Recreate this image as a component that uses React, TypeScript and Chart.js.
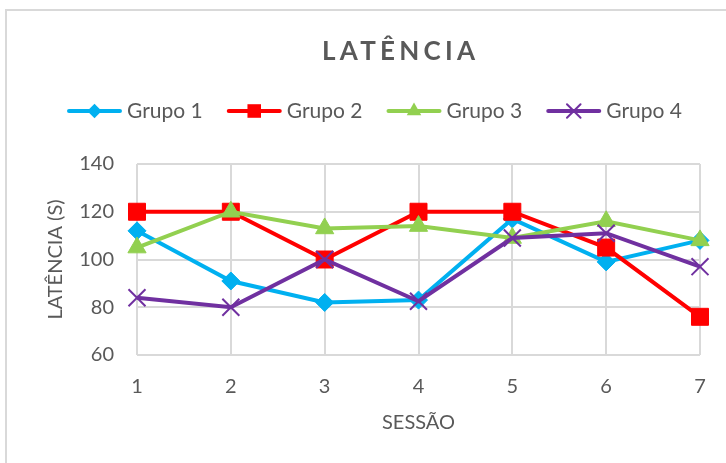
import React, { useEffect, useRef } from 'react';
import { Chart, registerables } from 'chart.js';

Chart.register(...registerables);

const sessions = ['1', '2', '3', '4', '5', '6', '7'];
const grupo1 = [112, 91, 82, 83, 117, 99, 108];
const grupo2 = [120, 120, 100, 120, 120, 105, 76];
const grupo3 = [105, 120, 113, 114, 109, 116, 108];
const grupo4 = [84, 80, 100, 82.5, 109, 111, 97];
const seriesNames = ['Grupo 1', 'Grupo 2', 'Grupo 3', 'Grupo 4'];
const seriesColors = ['#00B0F0', '#FF0000', '#92D050', '#7030A0'];
const seriesMarkers = ['rectRot', 'rect', 'triangle', 'crossRot'];
const seriesMarkerRadius = [9, 12, 10.5, 12];
const yTicks = [60, 80, 100, 120, 140];
const chartTitle = 'LATÊNCIA';
const yTitle = 'LATÊNCIA (S)';
const xTitle = 'SESSÃO';

const TEXT = '#595959';
const GRID = '#D9D9D9';
const FONT = 'Lato, "Open Sans", sans-serif';

function drawMarker(ctx: CanvasRenderingContext2D, style: string, x: number, y: number, r: number, color: string) {
  ctx.save();
  ctx.fillStyle = color;
  ctx.strokeStyle = color;
  ctx.beginPath();
  if (style === 'rectRot') {
    ctx.moveTo(x, y - r);
    ctx.lineTo(x + r, y);
    ctx.lineTo(x, y + r);
    ctx.lineTo(x - r, y);
    ctx.closePath();
    ctx.fill();
  } else if (style === 'rect') {
    const s = r * Math.SQRT1_2;
    ctx.rect(x - s, y - s, 2 * s, 2 * s);
    ctx.fill();
  } else if (style === 'triangle') {
    const h = r * Math.sin(Math.PI / 3);
    ctx.moveTo(x, y - r);
    ctx.lineTo(x + h, y + r / 2);
    ctx.lineTo(x - h, y + r / 2);
    ctx.closePath();
    ctx.fill();
  } else {
    const d = r * Math.SQRT1_2;
    ctx.lineWidth = 2;
    ctx.moveTo(x - d, y - d);
    ctx.lineTo(x + d, y + d);
    ctx.moveTo(x + d, y - d);
    ctx.lineTo(x - d, y + d);
    ctx.stroke();
  }
  ctx.restore();
}

const decorPlugin = {
  id: 'decor',
  beforeDraw(chart: any) {
    const ctx = chart.ctx as CanvasRenderingContext2D;
    ctx.save();
    ctx.fillStyle = '#FFFFFF';
    ctx.fillRect(0, 0, chart.width, chart.height);
    ctx.strokeStyle = GRID;
    ctx.lineWidth = 2;
    ctx.strokeRect(6, 10, chart.width + 20, chart.height + 20);
    ctx.restore();
  },
  afterDraw(chart: any) {
    const ctx = chart.ctx as CanvasRenderingContext2D;
    // Title
    ctx.save();
    ctx.fillStyle = TEXT;
    ctx.font = `bold 26px ${FONT}`;
    ctx.textBaseline = 'alphabetic';
    ctx.textAlign = 'left';
    const w0 = ctx.measureText(chartTitle).width;
    const target = 153;
    const ls = Math.max(0, (target - w0) / (chartTitle.length - 1));
    (ctx as any).letterSpacing = `${ls}px`;
    ctx.fillText(chartTitle, 398.5 - target / 2, 60);
    (ctx as any).letterSpacing = '0px';
    ctx.restore();

    // Legend
    ctx.save();
    ctx.font = `21px ${FONT}`;
    const lineW = 55;
    const gapText = 5;
    const gapItem = 24;
    const widths = seriesNames.map((n) => ctx.measureText(n).width);
    const total = widths.reduce((a, w) => a + lineW + gapText + w, 0) + gapItem * (seriesNames.length - 1);
    let x = 374.5 - total / 2;
    const y = 111;
    seriesNames.forEach((name, i) => {
      ctx.strokeStyle = seriesColors[i];
      ctx.lineWidth = 4;
      ctx.lineCap = 'round';
      ctx.beginPath();
      ctx.moveTo(x + 2, y);
      ctx.lineTo(x + lineW - 2, y);
      ctx.stroke();
      drawMarker(ctx, seriesMarkers[i], x + lineW / 2, y, seriesMarkerRadius[i] * 0.8, seriesColors[i]);
      ctx.fillStyle = TEXT;
      ctx.textAlign = 'left';
      ctx.textBaseline = 'middle';
      ctx.fillText(name, x + lineW + gapText, y);
      x += lineW + gapText + widths[i] + gapItem;
    });
    ctx.restore();
  },
};

export default function App() {
  const ref = useRef<HTMLCanvasElement | null>(null);

  useEffect(() => {
    document.body.style.margin = '0';
    const canvas = ref.current;
    if (!canvas) return;
    const seriesData = [grupo1, grupo2, grupo3, grupo4];
    const chart = new Chart(canvas, {
      type: 'line',
      data: {
        labels: sessions,
        datasets: seriesNames.map((name, i) => ({
          label: name,
          data: seriesData[i],
          borderColor: seriesColors[i],
          backgroundColor: seriesColors[i],
          borderWidth: 4,
          pointStyle: seriesMarkers[i] as any,
          pointRadius: seriesMarkerRadius[i],
          pointBorderWidth: i === 3 ? 2 : 1,
          pointBackgroundColor: seriesColors[i],
          pointBorderColor: seriesColors[i],
          tension: 0,
          fill: false,
          order: seriesNames.length - i,
        })),
      },
      options: {
        responsive: false,
        animation: false,
        devicePixelRatio: 1,
        layout: { padding: { top: 164, right: 26, bottom: 0, left: 0 } },
        plugins: {
          legend: { display: false },
          title: { display: false },
          tooltip: { enabled: false },
        },
        font: { family: FONT },
        scales: {
          x: {
            type: 'category',
            offset: false,
            grid: { color: GRID, lineWidth: 2, drawTicks: false },
            border: { display: false },
            ticks: { color: TEXT, font: { family: FONT, size: 20 }, padding: 20 },
            title: {
              display: true,
              text: xTitle,
              color: TEXT,
              font: { family: FONT, size: 20 },
              padding: { top: 0, bottom: 28 },
            },
            afterFit: (scale: any) => {
              scale.height = 108;
            },
          },
          y: {
            min: yTicks[0],
            max: yTicks[yTicks.length - 1],
            grid: { color: GRID, lineWidth: 2, drawTicks: false },
            border: { display: false },
            ticks: {
              stepSize: yTicks[1] - yTicks[0],
              color: TEXT,
              font: { family: FONT, size: 20 },
              padding: 23,
            },
            title: {
              display: true,
              text: yTitle,
              color: TEXT,
              font: { family: FONT, size: 20 },
              padding: { top: 44, bottom: 0 },
            },
            afterFit: (scale: any) => {
              scale.width = 137;
            },
          },
        },
      } as any,
      plugins: [decorPlugin],
    });
    return () => chart.destroy();
  }, []);

  return (
    <div style={{ position: 'fixed', left: 0, top: 0, width: 726, height: 463, background: '#fff' }}>
      <canvas ref={ref} width={726} height={463} style={{ display: 'block', width: 726, height: 463 }} />
    </div>
  );
}
